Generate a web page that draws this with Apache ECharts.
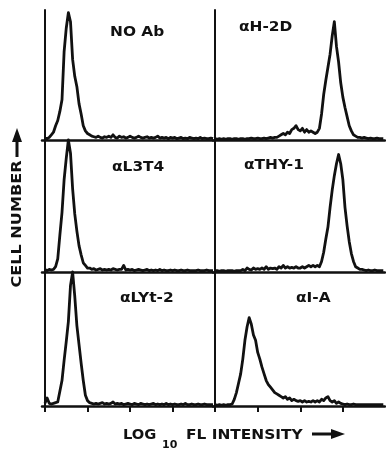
<!DOCTYPE html>
<html>
<head>
<meta charset="utf-8">
<script src="https://cdn.jsdelivr.net/npm/echarts@6/dist/echarts.min.js"></script>
<style>
  html, body { margin: 0; padding: 0; background: #fff; }
  #chart { width: 386px; height: 451px; }
</style>
</head>
<body>
<div id="chart"></div>
<script>
// Log10 fluorescence channel (decades), shared by every histogram
const logFl = Array.from({ length: 80 }, (_, i) => +(i * 0.05).toFixed(2));

// Relative cell counts (% of panel height), one value per channel
const noAb = [
  1.5, 1, 2, 4, 6, 11, 15, 22, 31, 68,
  86, 98, 91, 62, 49, 41, 28, 20, 11, 7,
  5, 4, 3, 2.5, 2, 3, 2, 1.5, 2.5, 2,
  3, 2, 4, 2, 1.5, 3, 2, 2.5, 1.5, 2,
  3, 2, 1.5, 2, 3, 2, 1.5, 2, 2.5, 1.5,
  2, 1.5, 2, 3, 1.5, 2, 1.5, 2, 1, 2,
  1.5, 2, 1, 1.5, 2, 1, 1.5, 1, 2, 1.5,
  1, 1.5, 1, 2, 1, 1.5, 1, 1, 1.5, 1
];
const antiH2D = [
  1, 0.5, 1, 0.5, 1, 0.5, 1, 1, 0.5, 1,
  1, 0.5, 1, 1, 0.5, 1, 1, 1.5, 1, 1,
  1.5, 1, 1, 1.5, 1, 1.5, 2, 1.5, 2, 2,
  3, 4, 5, 4, 6, 5, 8, 9, 11, 8,
  7, 9, 6, 8, 6, 7, 6, 5, 6, 9,
  20, 35, 46, 56, 66, 80, 91, 72, 60, 44,
  33, 25, 18, 11, 7, 4, 3, 2, 2, 1.5,
  2, 1.5, 1, 1.5, 1, 1, 1.5, 1, 1, 1
];
const antiL3T4 = [
  2, 1, 2, 1.5, 2, 4, 10, 28, 45, 70,
  86, 100, 90, 63, 44, 31, 20, 13, 7, 5,
  3, 3, 2, 2.5, 1.5, 2, 2.5, 1.5, 2, 1.5,
  2, 1.5, 2.5, 2, 1.5, 2, 2, 5, 1.5, 2,
  1.5, 2, 1, 1.5, 2, 1.5, 1, 1.5, 2, 1,
  1.5, 1, 1.5, 1, 2, 1, 1.5, 1, 1, 1.5,
  1, 1.5, 1, 1, 1.5, 1, 1, 1.5, 1, 1,
  1, 1, 1.5, 1, 1, 1, 1.5, 1, 1, 1
];
const antiThy1 = [
  1, 1, 0.5, 1, 1, 0.5, 1, 1, 1, 0.5,
  1, 1, 1, 2, 1, 3, 2, 1.5, 3, 2,
  2.5, 2, 3, 2, 4, 2, 3, 2.5, 3, 2,
  4, 3, 5, 3, 4, 3, 3.5, 3, 4, 3,
  3, 4, 3, 4, 5, 4, 5, 4, 5, 4,
  8, 15, 25, 34, 49, 62, 73, 82, 89, 82,
  70, 49, 35, 23, 14, 8, 4, 3, 2, 2,
  1.5, 1, 1.5, 1, 1, 1.5, 1, 1, 1, 1
];
const antiLyt2 = [
  2, 6, 2, 1.5, 2, 2.5, 3, 11, 19, 34,
  48, 63, 90, 100, 82, 60, 46, 32, 19, 8,
  4, 2.5, 2, 1.5, 2, 1.5, 2, 2.5, 1.5, 2,
  1.5, 2, 3, 1.5, 2, 1.5, 2, 1, 1.5, 2,
  1.5, 1, 2, 1.5, 1, 2, 1.5, 1, 1.5, 1,
  1.5, 2, 1, 1.5, 1, 1.5, 1, 2, 1, 1.5,
  1, 1.5, 1, 1, 1.5, 1, 2, 1, 1, 1.5,
  1, 1, 1.5, 1, 1, 1.5, 1, 1, 1, 1
];
const antiIA = [
  1, 0.5, 1, 0.5, 1, 0.5, 1, 1, 1.5, 5,
  10, 17, 24, 35, 49, 59, 66, 61, 53, 49,
  40, 35, 29, 24, 19, 16, 14, 12, 10, 9,
  8, 7, 6, 7, 5, 6, 4, 5, 4, 3.5,
  4, 3, 4, 3, 3.5, 3, 4, 3, 4, 3,
  5, 4, 6, 7, 4, 3, 4, 2, 3, 2,
  1.5, 1, 1.5, 1, 1, 1.5, 1, 1, 1, 1,
  1, 1, 1, 1, 1, 1, 1, 1, 1, 1
];

// Panel order: row by row, left then right
const panelSeries = [noAb, antiH2D, antiL3T4, antiThy1, antiLyt2, antiIA];
const panelLabels = ['NO Ab', '\u03b1H-2D', '\u03b1L3T4', '\u03b1THY-1', '\u03b1LYt-2', '\u03b1I-A'];
const decadeTicks = [0, 1, 2, 3];
const yTitle = 'CELL NUMBER';
const xTitleMain = 'LOG';
const xTitleSub = '10';
const xTitleRest = 'FL INTENSITY';

const INK = '#111';
const FONT = 'bold 14px "DejaVu Sans"';

// Panel frames in pixels
const colLeft = [42, 213];
const colWidth = [171, 172];
const rowTop = [10, 140, 272];
const rowHeight = [130, 132, 134];
const xRange = [[-0.07, 3.95], [-0.05, 3.99]];

const grids = [], xAxes = [], yAxes = [], series = [];
panelSeries.forEach((counts, i) => {
  const row = Math.floor(i / 2), col = i % 2;
  grids.push({ left: colLeft[col], width: colWidth[col], top: rowTop[row], height: rowHeight[row] });
  xAxes.push({
    gridIndex: i, type: 'value', min: xRange[col][0], max: xRange[col][1],
    axisLine: { show: true, onZero: false, lineStyle: { color: INK, width: 2.5 } },
    axisTick: { show: row === 2, customValues: decadeTicks, length: 6, lineStyle: { color: INK, width: 2 } },
    axisLabel: { show: false }, splitLine: { show: false }
  });
  yAxes.push({
    gridIndex: i, type: 'value', min: 0, max: 100,
    axisLine: { show: true, lineStyle: { color: INK, width: 2 } },
    axisTick: { show: false }, axisLabel: { show: false }, splitLine: { show: false }
  });
  series.push({
    type: 'line', xAxisIndex: i, yAxisIndex: i,
    data: logFl.map((x, k) => [x, counts[k]]),
    showSymbol: false, clip: false, z: 3,
    lineStyle: { color: INK, width: 2.8, join: 'round' }
  });
});

// Panel label positions (px)
const labelPos = [[110, 32], [239, 27], [112, 167], [244, 165], [120, 298], [296, 298]];
const graphic = panelLabels.map((t, i) => ({
  type: 'text', x: labelPos[i][0], y: labelPos[i][1], scaleX: 1.1,
  style: { text: t, font: FONT, fill: INK, align: 'left', verticalAlign: 'middle' }
}));

// Axis titles and arrows
graphic.push(
  { type: 'text', x: 123, y: 435, scaleX: 1.05,
    style: { text: xTitleMain, font: FONT, fill: INK, align: 'left', verticalAlign: 'middle' } },
  { type: 'text', x: 162, y: 445,
    style: { text: xTitleSub, font: 'bold 11px "DejaVu Sans"', fill: INK, align: 'left', verticalAlign: 'middle' } },
  { type: 'text', x: 186, y: 435, scaleX: 1.1,
    style: { text: xTitleRest, font: FONT, fill: INK, align: 'left', verticalAlign: 'middle' } },
  { type: 'line', shape: { x1: 312, y1: 434, x2: 334, y2: 434 }, style: { stroke: INK, lineWidth: 3 } },
  { type: 'polygon', shape: { points: [[331, 429], [345, 434], [331, 439]] }, style: { fill: INK } },
  { type: 'text', x: 17, y: 224, rotation: Math.PI / 2, scaleX: 1.15,
    style: { text: yTitle, font: FONT, fill: INK, align: 'center', verticalAlign: 'middle' } },
  { type: 'line', shape: { x1: 17, y1: 139, x2: 17, y2: 157 }, style: { stroke: INK, lineWidth: 3 } },
  { type: 'polygon', shape: { points: [[12, 142], [17, 128], [22, 142]] }, style: { fill: INK } }
);

const chart = echarts.init(document.getElementById('chart'), null, { renderer: 'canvas' });
chart.setOption({
  animation: false,
  backgroundColor: '#fff',
  grid: grids, xAxis: xAxes, yAxis: yAxes, series: series,
  graphic: graphic
});
</script>
</body>
</html>
